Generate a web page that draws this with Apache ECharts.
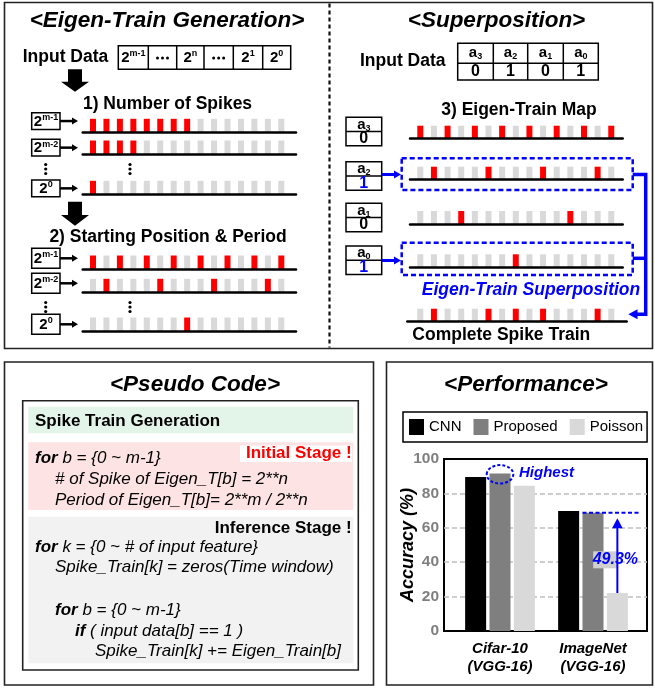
<!DOCTYPE html>
<html><head><meta charset="utf-8">
<script src="https://cdn.jsdelivr.net/npm/echarts@6/dist/echarts.min.js"></script>
<style>html,body{margin:0;padding:0;background:#fff}#c{width:655px;height:690px}</style>
</head><body><div id="c"></div>
<script>
// ================= DATA =================
// Performance chart
const perfCategories = ['Cifar-10\n(VGG-16)', 'ImageNet\n(VGG-16)'];
const perfSeriesNames = ['CNN', 'Proposed', 'Poisson'];
const cnnAcc = [89.5, 69.8];
const proposedAcc = [91.5, 68.8];
const poissonAcc = [84.5, 22.1];
const accMin = 0, accMax = 100, accInterval = 20;
const gapLabel = '49.3%';

// Eigen-train generation: 1 = spike (red), 0 = empty slot (grey)
const numSpikesM1 = [1,1,1,1,1,1,1,1,0,0,0,0,0,0,0];
const numSpikesM2 = [1,1,1,1,0,0,0,0,0,0,0,0,0,0,0];
const numSpikes0  = [1,0,0,0,0,0,0,0,0,0,0,0,0,0,0];
const periodM1    = [1,0,1,0,1,0,1,0,1,0,1,0,1,0,1];
const periodM2    = [0,1,0,0,0,1,0,0,0,1,0,0,0,1,0];
const period0     = [0,0,0,0,0,0,0,1,0,0,0,0,0,0,0];
const rowExponents = ['m-1', 'm-2', '0'];
const inputExponents = ['m-1', null, 'n', null, '1', '0'];

// Superposition
const bitIndices = ['3', '2', '1', '0'];
const bitValues = [0, 1, 0, 1];
const eigenA3 = [1,0,1,0,1,0,1,0,1,0,1,0,1,0,1];
const eigenA2 = [0,1,0,0,0,1,0,0,0,1,0,0,0,1,0];
const eigenA1 = [0,0,0,1,0,0,0,0,0,0,0,1,0,0,0];
const eigenA0 = [0,0,0,0,0,0,0,1,0,0,0,0,0,0,0];
const completeTrain = [0,1,0,0,0,1,0,1,0,1,0,0,0,1,0];

// ================= STYLE =================
const RED = '#ff0000', GRAY = '#d9d9d9', BLUE = '#0000ff';
const FONT = "'Liberation Sans', Arial, Helvetica, sans-serif";

const chart = echarts.init(document.getElementById('c'), null, {renderer: 'canvas', width: 655, height: 690});

const grids = [], xAxes = [], yAxes = [], series = [];

function addTrain(pattern, x0, step, lineL, lineR, baseY, barH) {
  const idx = grids.length;
  grids.push({left: lineL, width: lineR - lineL, top: baseY - barH, height: barH,
    containLabel: false, outerBoundsMode: 'none'});
  xAxes.push({gridIndex: idx, type: 'value', min: (lineL - x0) / step, max: (lineR - x0) / step, z: 5,
    axisLine: {show: true, onZero: false, lineStyle: {color: '#000', width: 2.5}},
    axisTick: {show: false}, axisLabel: {show: false}, splitLine: {show: false}});
  yAxes.push({gridIndex: idx, type: 'value', min: 0, max: 1, show: false});
  series.push({type: 'bar', xAxisIndex: idx, yAxisIndex: idx, barWidth: 6, silent: true,
    data: pattern.map((v, i) => ({value: [i, 1], itemStyle: {color: v ? RED : GRAY}}))});
}

// left panel trains
const LX0 = 93, LSTEP = 13.45, LL = 82.7, LR = 296;
[[numSpikesM1, 132.3], [numSpikesM2, 154], [numSpikes0, 194.3],
 [periodM1, 269], [periodM2, 292.3], [period0, 331]].forEach(([p, y]) => addTrain(p, LX0, LSTEP, LL, LR, y, 13.5));
// right panel trains
const RX0 = 420.3, RSTEP = 13.64;
[[eigenA3, 138.7], [eigenA2, 179.7], [eigenA1, 224], [eigenA0, 267.3]].forEach(([p, y]) => addTrain(p, RX0, RSTEP, 410, 622.7, y, 13));
addTrain(completeTrain, RX0, RSTEP, 407.3, 626.7, 321.7, 13);

// performance chart
const gBar = grids.length;
grids.push({left: 453.5, top: 459, width: 186, height: 172, containLabel: false, outerBoundsMode: 'none'});
xAxes.push({gridIndex: gBar, type: 'category', data: perfCategories,
  axisLine: {show: false}, axisTick: {show: false},
  axisLabel: {margin: 9, fontFamily: FONT, fontSize: 15, fontWeight: 'bold', fontStyle: 'italic', color: '#000', lineHeight: 18}});
yAxes.push({gridIndex: gBar, type: 'value', min: accMin, max: accMax, show: false});
const gFrame = grids.length;
grids.push({left: 444, top: 459, width: 203, height: 172, show: true, borderColor: '#000', borderWidth: 2,
  backgroundColor: 'transparent', containLabel: false, outerBoundsMode: 'none'});
xAxes.push({gridIndex: gFrame, type: 'value', min: 0, max: 1, show: false});
yAxes.push({gridIndex: gFrame, type: 'value', min: accMin, max: accMax, interval: accInterval,
  axisLine: {show: false}, axisTick: {show: false},
  axisLabel: {margin: 5, fontFamily: FONT, fontSize: 15.5, fontWeight: 'bold', color: '#7f7f7f'},
  splitLine: {show: true, showMinLine: false, showMaxLine: false, lineStyle: {color: '#bfbfbf', width: 1.5, type: [5, 3]}},
  name: 'Accuracy (%)', nameLocation: 'middle', nameGap: 27, nameMoveOverlap: false,
  nameTextStyle: {fontFamily: FONT, fontSize: 18, fontWeight: 'bold', fontStyle: 'italic', color: '#000'}});
const perfData = [cnnAcc, proposedAcc, poissonAcc];
const perfColors = ['#000000', '#7f7f7f', '#d9d9d9'];
perfSeriesNames.forEach((name, k) => series.push({type: 'bar', name, data: perfData[k],
  xAxisIndex: gBar, yAxisIndex: gBar, barWidth: 21, barGap: '16%', silent: true,
  itemStyle: {color: perfColors[k]}}));

const option = {
  animation: false,
  backgroundColor: '#fff',
  grid: grids, xAxis: xAxes, yAxis: yAxes, series,
  legend: {data: perfSeriesNames, left: 403, top: 412, padding: [7, 4, 7, 6], itemGap: 12,
    itemWidth: 15, itemHeight: 16, icon: 'rect', borderColor: '#000', borderWidth: 1.5, selectedMode: false,
    textStyle: {fontFamily: FONT, fontSize: 15, color: '#000'}}
};
chart.setOption(option);

// ================= GRAPHIC HELPERS =================
function T(x, y, text, st) {
  return {type: 'text', x, y, z: 50, silent: true, style: Object.assign({text, fontFamily: FONT, fontSize: 17.5,
    fontWeight: 'bold', fontStyle: 'normal', fill: '#000', align: 'left', verticalAlign: 'middle'}, st || {})};
}
function R(x, y, w, h, st, z) {
  return {type: 'rect', z: z || 40, silent: true, shape: {x, y, width: w, height: h},
    style: Object.assign({fill: 'none', stroke: '#000', lineWidth: 1.5}, st || {})};
}
function L(x1, y1, x2, y2, st, z) {
  return {type: 'line', z: z || 40, silent: true, shape: {x1, y1, x2, y2},
    style: Object.assign({stroke: '#000', lineWidth: 1.5}, st || {})};
}
function PG(points, fill, z) {
  return {type: 'polygon', z: z || 40, silent: true, shape: {points}, style: {fill, stroke: 'none'}};
}
function DOT(cx, cy, r) {
  return {type: 'circle', z: 40, silent: true, shape: {cx, cy, r}, style: {fill: '#000'}};
}
function pow2(cx, cy, exp, fs, sfs) {
  fs = fs || 15; sfs = sfs || 9;
  const text = exp == null ? '{b|2}' : '{b|2}{s|' + exp + '}';
  return T(cx, cy, text, {align: 'center', rich: {
    b: {fontFamily: FONT, fontSize: fs, fontWeight: 'bold', lineHeight: fs + 2},
    s: {fontFamily: FONT, fontSize: sfs, fontWeight: 'bold', lineHeight: sfs + 1, verticalAlign: 'top'}}});
}
function subA(cx, cy, idx) {
  return T(cx, cy, '{b|a}{s|' + idx + '}', {align: 'center', rich: {
    b: {fontFamily: FONT, fontSize: 15, fontWeight: 'bold', lineHeight: 16},
    s: {fontFamily: FONT, fontSize: 9, fontWeight: 'bold', lineHeight: 9, verticalAlign: 'bottom'}}});
}
function hArrow(x1, x2, y, color, lw, headL, headW) {
  const dir = x2 > x1 ? 1 : -1;
  return [L(x1, y, x2 - dir * headL, y, {stroke: color, lineWidth: lw}),
    PG([[x2, y], [x2 - dir * headL, y - headW], [x2 - dir * headL, y + headW]], color)];
}
function bigDown(cx, y0, y1, y2) {
  return PG([[cx - 7, y0], [cx + 7, y0], [cx + 7, y1], [cx + 14, y1], [cx, y2], [cx - 14, y1], [cx - 7, y1]], '#000');
}

const G = [];
// ---------- frames ----------
G.push(R(4.5, 2.5, 648, 346, {lineWidth: 1.6, stroke: '#222'}));
G.push(L(329.5, 3.5, 329.5, 347.5, {lineWidth: 2.2, lineDash: [4, 3], stroke: '#111'}));
G.push(R(4.5, 362, 369, 323, {lineWidth: 1.6, stroke: '#222'}));
G.push(R(386.5, 362, 266, 323, {lineWidth: 1.6, stroke: '#222'}));

// ---------- Eigen-Train Generation ----------
const titleStyle = {fontSize: 22.5, fontStyle: 'italic', align: 'center'};
G.push(T(167, 21, '<Eigen-Train Generation>', titleStyle));
G.push(T(22.7, 57.5, 'Input Data'));
const genCols = [118.3, 148.3, 176.7, 204, 233.3, 262.7, 290.7];
G.push(R(118.3, 45.7, 172.4, 23.6));
genCols.slice(1, -1).forEach(x => G.push(L(x, 45.7, x, 69.3)));
inputExponents.forEach((e, i) => {
  const mid = (genCols[i] + genCols[i + 1]) / 2;
  if (i === 1 || i === 3) { [-5, 0, 5].forEach(d => G.push(DOT(mid + d, 58, 1.5))); }
  else G.push(pow2(mid, 58, e, 15, 9));
});
G.push(bigDown(75, 69.3, 81.7, 91.7));
G.push(T(167.5, 104, '1) Number of Spikes', {align: 'center'}));
G.push(bigDown(75, 201.7, 215, 225.7));
G.push(T(168, 237.3, '2) Starting Position & Period', {align: 'center'}));

const sec1Tops = [112.7, 139.3, 180], sec1H = 16.7;
const sec2Tops = [248.3, 273.3, 314.3], sec2H = 20;
[[sec1Tops, sec1H], [sec2Tops, sec2H]].forEach(([tops, h]) => {
  tops.forEach((t, i) => {
    G.push(R(31.7, t, 28.3, h));
    G.push(pow2(46, t + h / 2 + 0.5, rowExponents[i], 15, 9));
    G.push(...hArrow(60, 78, t + h / 2, '#000', 2.5, 6, 3.5));
  });
});
[[164.5, 169, 173.5], [302.5, 307, 311.5]].forEach(ys => ys.forEach(y => {
  G.push(DOT(45.7, y, 1.6)); G.push(DOT(130, y, 1.6));
}));

// ---------- Superposition ----------
G.push(T(496.5, 21, '<Superposition>', titleStyle));
G.push(T(360, 61, 'Input Data'));
const supCols = [457.7, 493.3, 527.7, 563.3, 598.3];
G.push(R(457.7, 43.3, 140.6, 36.7));
G.push(L(457.7, 63.3, 598.3, 63.3));
supCols.slice(1, -1).forEach(x => G.push(L(x, 43.3, x, 80)));
bitIndices.forEach((b, i) => {
  const mid = (supCols[i] + supCols[i + 1]) / 2;
  G.push(subA(mid, 53.3, b));
  G.push(T(mid, 72, String(bitValues[i]), {fontSize: 16, align: 'center'}));
});
G.push(T(519, 110, '3) Eigen-Train Map', {align: 'center'}));
const boxTops = [117.3, 161.7, 203.3, 246];
boxTops.forEach((t, i) => {
  G.push(R(346, t, 35.7, 28.5));
  G.push(L(346, t + 14.25, 381.7, t + 14.25));
  G.push(subA(363.8, t + 7.3, bitIndices[i]));
  G.push(T(363.8, t + 21.6, String(bitValues[i]), {fontSize: 16, align: 'center', fill: bitValues[i] ? BLUE : '#000'}));
});
G.push(R(401.7, 158.3, 231, 31.7, {stroke: BLUE, lineWidth: 2.5, lineDash: [5, 3]}));
G.push(R(401.7, 242.7, 231, 32.3, {stroke: BLUE, lineWidth: 2.5, lineDash: [5, 3]}));
G.push(...hArrow(381.7, 401, 174.5, BLUE, 3, 7, 4));
G.push(...hArrow(381.7, 401, 260.5, BLUE, 3, 7, 4));
G.push({type: 'polyline', z: 40, silent: true, shape: {points: [[632.7, 174.5], [645.7, 174.5], [645.7, 314.3], [637, 314.3]]},
  style: {stroke: BLUE, lineWidth: 3.5, fill: 'none'}});
G.push(L(632.7, 258.3, 645.7, 258.3, {stroke: BLUE, lineWidth: 3.5}));
G.push(PG([[628.3, 314.3], [637.5, 309.3], [637.5, 319.3]], BLUE));
G.push(T(531, 290, 'Eigen-Train Superposition', {align: 'center', fontStyle: 'italic', fill: BLUE}));
G.push(T(501.3, 335, 'Complete Spike Train', {align: 'center'}));

// ---------- Pseudo Code ----------
G.push(T(195, 385, '<Pseudo Code>', titleStyle));
G.push(R(22.7, 400.7, 335.6, 269.3, {lineWidth: 1.6, stroke: '#222'}));
G.push(R(28.3, 406.7, 325, 26.6, {fill: '#e3f4e8', stroke: 'none'}, 30));
G.push(R(28.3, 442.3, 325, 67.7, {fill: '#fde3e3', stroke: 'none'}, 30));
G.push(R(28.3, 516.7, 325, 146.6, {fill: '#f2f2f2', stroke: 'none'}, 30));
G.push(R(240, 445.5, 112, 16.5, {fill: '#ffffff', stroke: 'none'}, 31));
G.push(T(35, 421, 'Spike Train Generation', {fontSize: 17}));
G.push(T(351.7, 453.5, 'Initial Stage !', {fontSize: 17, fill: RED, align: 'right'}));
G.push(T(351.7, 528.3, 'Inference Stage !', {fontSize: 17, align: 'right'}));
const codeSt = {fontSize: 17, fontWeight: 'normal', fontStyle: 'italic',
  rich: {k: {fontFamily: FONT, fontSize: 17, fontWeight: 'bold', fontStyle: 'italic'}}};
const codeLines = [
  [35, 458.3, '{k|for} b = {0 ~ m-1}'],
  [55, 479.3, '# of Spike of Eigen_T[b] = 2**n'],
  [55, 500, 'Period of Eigen_T[b]= 2**m / 2**n'],
  [35, 547.7, '{k|for} k = {0 ~ # of input feature}'],
  [55, 567.5, 'Spike_Train[k] = zeros(Time window)'],
  [55, 610, '{k|for} b = {0 ~ m-1}'],
  [75, 631, '{k|if} ( input data[b] == 1 )'],
  [95, 651.7, 'Spike_Train[k] += Eigen_Train[b]']
];
codeLines.forEach(([x, y, s]) => G.push(T(x, y, s, codeSt)));

// ---------- Performance ----------
G.push(T(526, 385, '<Performance>', titleStyle));
const px = (i, v) => chart.convertToPixel({gridIndex: gBar}, [i, v]);
const BAR_STEP = 21 * 1.16;
const hi = px(0, proposedAcc[0]);
G.push({type: 'ellipse', z: 50, silent: true, shape: {cx: hi[0], cy: hi[1] + 0.7, rx: 13.3, ry: 9.2},
  style: {fill: 'none', stroke: BLUE, lineWidth: 2, lineDash: [3, 2]}});
G.push(T(hi[0] + 19, hi[1] - 1, 'Highest', {fontSize: 15, fontStyle: 'italic', fill: BLUE}));
const imP = px(1, proposedAcc[1]);
const poi = px(1, poissonAcc[1]);
const ax = imP[0] + BAR_STEP;
G.push(L(imP[0] - 10.5, imP[1], ax + 22.5, imP[1], {stroke: BLUE, lineWidth: 2, lineDash: [4, 2.5]}, 50));
const ly = (poi[1] + imP[1]) / 2 + 7;
G.push(R(ax - 24.2, ly - 8.5, 25, 17, {fill: '#d0d0d0', stroke: 'none'}, 45));
G.push(L(ax, poi[1], ax, imP[1] + 14, {stroke: BLUE, lineWidth: 2}, 50));
G.push(PG([[ax, imP[1] + 5.5], [ax - 5.3, imP[1] + 15.5], [ax + 5.3, imP[1] + 15.5]], BLUE, 50));
G.push(T(ax - 2, ly, gapLabel, {fontSize: 16, fontStyle: 'italic', fill: BLUE, align: 'center'}));

chart.setOption({graphic: {elements: G}});
</script>
</body></html>
